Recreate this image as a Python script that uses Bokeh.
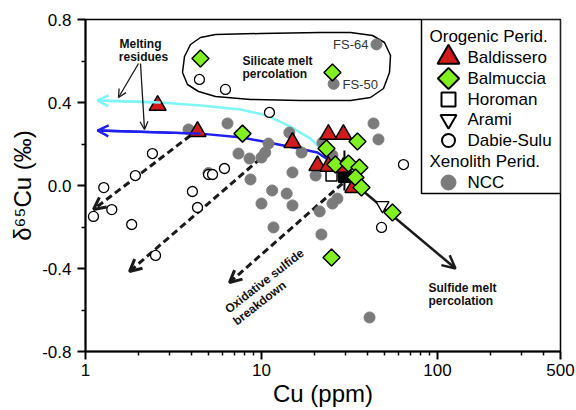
import numpy as np
from bokeh.plotting import figure
from bokeh.models import Range1d, FixedTicker, PrintfTickFormatter, Arrow, OpenHead
from bokeh.embed import file_html
from bokeh.resources import INLINE
from bokeh.core.properties import value

# ---------------- data ----------------
bald_cu = [2.57, 4.33, 15.0, 24.0, 29.2, 20.8, 24.0, 29.2, 33.3]
bald_d = [0.386, 0.26, 0.207, 0.246, 0.246, 0.096, 0.092, 0.087, -0.01]

balm_cu = [4.50, 25.3, 7.80, 23.4, 35.1, 26.3, 31.2, 36.0, 34.2, 37.0, 55.5, 25.0]
balm_d = [0.612, 0.545, 0.25, 0.178, 0.212, 0.101, 0.106, 0.087, 0.039, -0.010, -0.13, -0.347]

horo_cu = [25.0]
horo_d = [0.048]

arami_cu = [48.7]
arami_d = [-0.096]

dabie_cu = [4.44, 6.24, 11.1, 2.40, 1.92, 1.27, 1.11, 1.41, 1.83, 2.50, 4.05, 4.33,
            5.0, 5.27, 6.16, 64.1, 48.1]
dabie_d = [0.511, 0.463, 0.352, 0.154, 0.048, -0.010, -0.149, -0.116, -0.188, -0.337,
           -0.029, -0.106, 0.053, 0.053, 0.082, 0.101, -0.202]

ncc_cu = [45.0, 25.7, 3.85, 6.41, 14.4, 10.96, 7.40, 8.55, 10.0, 10.5, 16.9, 8.66, 15.0,
          11.5, 13.9, 10.0, 15.0, 11.7, 43.3, 46.2, 22.2, 25.3, 20.3, 27.0, 25.3, 21.4,
          21.9, 41.1, 5.0]
ncc_d = [0.68, 0.49, 0.27, 0.299, 0.255, 0.202, 0.154, 0.130, 0.135, 0.159, 0.159, 0.029,
         0.063, -0.024, -0.039, -0.087, -0.096, -0.202, 0.299, 0.222, 0.207, 0.145, 0.048,
         -0.063, -0.087, -0.125, -0.236, -0.636, 0.06]

# mean value with error bar (black)
mean_cu = [29.6]
mean_d = [0.043]
mean_lo = [-0.024]
mean_hi = [0.169]

# melting-residue model curves
cyan_cu = [1.17, 2.67, 4.50, 7.60, 10.8, 14.6, 19.0, 23.7, 28.1]
cyan_d = [0.41, 0.40, 0.386, 0.366, 0.337, 0.284, 0.226, 0.145, 0.096]
blue_cu = [1.17, 4.50, 7.79, 10.96, 15.2, 20.8, 24.7]
blue_d = [0.265, 0.25, 0.231, 0.207, 0.183, 0.159, 0.116]

x_ticks = [1, 10, 100, 500]
y_ticks = [-0.8, -0.4, 0.0, 0.4, 0.8]

FONT = "Liberation Sans"
W, H = 576, 410

p = figure(width=W, height=H, x_axis_type="log",
           x_range=Range1d(1, 500), y_range=Range1d(-0.8, 0.8),
           output_backend="svg", toolbar_location=None,
           min_border_left=85, min_border_right=16, min_border_top=19, min_border_bottom=59)
p.xgrid.visible = False
p.ygrid.visible = False
p.outline_line_color = "black"
p.outline_line_width = 1.5
p.background_fill_color = "white"
p.border_fill_color = "white"

p.xaxis.ticker = FixedTicker(ticks=x_ticks,
                             minor_ticks=[2, 3, 4, 5, 6, 7, 8, 9, 20, 30, 40, 50, 60, 70, 80, 90, 200, 300, 400])
p.xaxis.formatter = PrintfTickFormatter(format="%d")
p.yaxis.ticker = FixedTicker(ticks=y_ticks, minor_ticks=[-0.6, -0.2, 0.2, 0.6])
p.yaxis.formatter = PrintfTickFormatter(format="%.1f")
for ax in (p.xaxis, p.yaxis):
    ax.axis_line_width = 2
    ax.major_tick_line_width = 2
    ax.minor_tick_line_width = 1.5
    ax.major_tick_out = 8
    ax.major_tick_in = 0
    ax.minor_tick_out = 4
    ax.minor_tick_in = 0
    ax.major_label_text_font = FONT
    ax.major_label_text_font_size = "17px"
    ax.major_label_text_color = "black"
    ax.axis_label_text_font = FONT
    ax.axis_label_text_font_style = "normal"
    ax.axis_label_text_font_size = "24px"
    ax.axis_label_text_color = "black"
p.xaxis.axis_label = "Cu (ppm)"
p.yaxis.axis_label = "δ⁶⁵Cu (‰)"
p.xaxis.major_label_standoff = 4
p.xaxis.axis_label_standoff = 1
p.yaxis.major_label_standoff = 6
p.yaxis.axis_label_standoff = 3

# pixel helpers for the layout of annotations (frame in reference image coords)
FL, FT, FW, FH = 85, 19, 475, 332
def cu_at(px):
    return 10 ** ((px - FL) / FW * np.log10(500))
def d_at(py):
    return 0.8 - (py - FT) / FH * 1.6

# silicate melt outline
out_px = [(182, 72), (184, 56), (190, 44), (200, 37), (215, 34), (260, 33), (320, 32), (350, 32),
          (372, 35), (384, 42), (390, 55), (389, 72), (383, 88), (370, 97), (350, 100),
          (300, 100), (250, 99), (215, 96), (198, 91), (187, 84)]
p.patch([cu_at(a) for a, b in out_px], [d_at(b) for a, b in out_px],
        fill_alpha=0, line_color="black", line_width=1.5)

# curves
p.line(cyan_cu, cyan_d, line_color="#7ff5f5", line_width=2.5)
p.line(blue_cu, blue_d, line_color="#1f1fee", line_width=2.5)
p.add_layout(Arrow(end=OpenHead(size=11, line_color="#7ff5f5", line_width=2.5),
                   x_start=cyan_cu[1], y_start=cyan_d[1], x_end=cyan_cu[0], y_end=cyan_d[0],
                   line_color="#7ff5f5", line_width=2.5))
p.add_layout(Arrow(end=OpenHead(size=11, line_color="#1f1fee", line_width=2.5),
                   x_start=blue_cu[1], y_start=blue_d[1], x_end=blue_cu[0], y_end=blue_d[0],
                   line_color="#1f1fee", line_width=2.5))

# dashed arrows (oxidative sulfide breakdown)
for xs, ys, xe, ye in [(cu_at(190), d_at(135), cu_at(93), d_at(209)),
                       (cu_at(260), d_at(158), cu_at(129), d_at(271)),
                       (cu_at(342), d_at(183), cu_at(229), d_at(282))]:
    a = Arrow(end=OpenHead(size=12, line_color="#1a1a1a", line_width=3),
              x_start=xs, y_start=ys, x_end=xe, y_end=ye,
              line_color="#1a1a1a", line_width=3, line_dash="7 4", level="underlay")
    p.add_layout(a)
# solid arrow (sulfide melt percolation)
p.add_layout(Arrow(end=OpenHead(size=13, line_color="#1a1a1a", line_width=2.5),
                   x_start=cu_at(350), y_start=d_at(180), x_end=cu_at(455), y_end=d_at(268),
                   line_color="#1a1a1a", line_width=2.5, level="underlay"))
# thin arrows from "Melting residues"
for xs, ys, xe, ye in [(cu_at(138), d_at(63), cu_at(118), d_at(97)),
                       (cu_at(140), d_at(63), cu_at(144), d_at(129))]:
    p.add_layout(Arrow(end=OpenHead(size=8, line_color="#1a1a1a", line_width=1.3),
                       x_start=xs, y_start=ys, x_end=xe, y_end=ye,
                       line_color="#1a1a1a", line_width=1.3))

# data markers
GRAY = "#7b7b7b"
RED = "#d01c1c"
GREEN = "#80f020"
p.scatter(ncc_cu, ncc_d, marker="circle", size=11, fill_color=GRAY, line_color=GRAY)
p.scatter(dabie_cu, dabie_d, marker="circle", size=10, fill_color="white", line_color="black", line_width=1.3)
p.segment(mean_cu, mean_lo, mean_cu, mean_hi, line_color="black", line_width=2)
p.scatter(mean_cu, mean_d, marker="square", size=12, fill_color="black", line_color="black")
p.scatter(horo_cu, horo_d, marker="square", size=11, fill_color="white", line_color="black", line_width=1.5)
p.scatter(arami_cu, arami_d, marker="inverted_triangle", size=13, fill_color="white", line_color="black", line_width=1.3)
p.scatter(bald_cu, bald_d, marker="triangle", size=17, fill_color=RED, line_color="black", line_width=1.5)
p.scatter(balm_cu, balm_d, marker="square", angle=np.pi / 4, size=12, fill_color=GREEN, line_color="black", line_width=1.5)

# text annotations
def txt(x, y, s, size="12px", style="bold", align="left", angle=0.0, color="#111111"):
    p.text([x], [y], text=[s], text_font=value(FONT), text_font_size=size,
           text_font_style=style, text_align=align, text_baseline="middle",
           angle=angle, text_color=color)

txt(cu_at(140), d_at(43), "Melting", align="center")
txt(cu_at(143), d_at(56), "residues", align="center")
txt(cu_at(242), d_at(60), "Silicate melt")
txt(cu_at(242), d_at(73), "percolation")
txt(cu_at(428), d_at(287), "Sulfide melt")
txt(cu_at(428), d_at(300), "percolation")
txt(cu_at(226), d_at(310), "Oxidative sulfide", angle=0.66)
txt(cu_at(234), d_at(322), "breakdown", angle=0.66)
txt(cu_at(368), d_at(44), "FS-64", size="13px", style="normal", align="right", color="#333333")
txt(cu_at(342), d_at(84), "FS-50", size="13px", style="normal", color="#333333")

# legend (drawn by hand)
leg_labels = ["Baldissero", "Balmuccia", "Horoman", "Arami", "Dabie-Sulu", "NCC"]
leg_headers = ["Orogenic Perid.", "Xenolith Perid."]
p.quad(left=[cu_at(421)], right=[500], top=[0.8], bottom=[d_at(193)],
       fill_color="white", line_color="black", line_width=1.5)
row_y = [57, 78, 99, 119, 140, 182]
gx = cu_at(448)
styles = [dict(marker="triangle", size=22, fill_color=RED, line_color="black", line_width=2),
          dict(marker="square", angle=np.pi / 4, size=15, fill_color=GREEN, line_color="black", line_width=2),
          dict(marker="square", size=14, fill_color="white", line_color="black", line_width=2),
          dict(marker="inverted_triangle", size=16, fill_color="white", line_color="black", line_width=2),
          dict(marker="circle", size=13, fill_color="white", line_color="black", line_width=2),
          dict(marker="circle", size=15, fill_color=GRAY, line_color=GRAY)]
for lab, yy, st in zip(leg_labels, row_y, styles):
    p.scatter([gx], [d_at(yy)], **st)
    txt(cu_at(467), d_at(yy), lab, size="17px", style="normal", color="black")
txt(cu_at(429), d_at(36), leg_headers[0], size="17px", style="normal", color="black")
txt(cu_at(429), d_at(161), leg_headers[1], size="17px", style="normal", color="black")

open("out.html", "w").write(file_html(p, INLINE))
